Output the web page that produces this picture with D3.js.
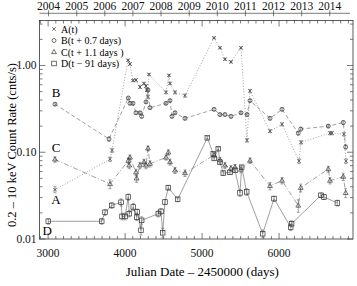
<!DOCTYPE html>
<html lang="en">
<head>
<meta charset="UTF-8">
<title>X-ray light curves</title>
<script src="https://d3js.org/d3.v7.min.js"></script>
<style>
body{margin:0;background:#fff;}
svg{display:block;font-family:"Liberation Serif","Times New Roman",serif;}
.frame{fill:none;stroke:#333;stroke-width:0.8px;}
.tick{stroke:#444;stroke-width:0.7px;}
.lbl{font-size:11.5px;fill:#111;}
.curve{fill:none;stroke:#888;stroke-width:0.8px;}
.mark{fill:none;stroke:#333;stroke-width:0.7px;}
.err{stroke:#666;stroke-width:0.6px;}
</style>
</head>
<body>
<svg width="357" height="286"></svg>
<script>
// each point: [JD - 2450000, rate (cnts/s), error]
var seriesA = [
  [3089, 0.037, 0.003], [3804, 0.083, 0.005], [3830, 0.105, 0.006],
  [4038, 1.15, 0.03], [4063, 1.04, 0.03], [4102, 0.67, 0.02], [4141, 0.68, 0.02],
  [4193, 0.565, 0.02], [4245, 0.62, 0.02], [4271, 0.58, 0.02], [4284, 0.52, 0.02],
  [4297, 0.436, 0.02], [4310, 0.79, 0.02], [4531, 0.49, 0.02], [4570, 0.77, 0.02],
  [4583, 0.62, 0.02], [4648, 0.49, 0.02], [4778, 0.45, 0.02], [5155, 2.08, 0.05],
  [5232, 1.60, 0.04], [5297, 1.18, 0.03], [5375, 1.10, 0.03], [5505, 1.60, 0.04],
  [5583, 0.137, 0.006], [5622, 0.51, 0.02], [5882, 0.175, 0.007], [6038, 0.21, 0.008],
  [6259, 0.079, 0.005], [6285, 0.13, 0.006], [6661, 0.166, 0.007], [6687, 0.166, 0.007],
  [6843, 0.161, 0.007], [6869, 0.079, 0.005]
];
var seriesB = [
  [3089, 0.358, 0.012], [3791, 0.142, 0.008], [4041, 0.422, 0.012], [4063, 0.366, 0.012],
  [4102, 0.366, 0.012], [4141, 0.285, 0.01], [4193, 0.285, 0.01], [4215, 0.259, 0.01],
  [4271, 0.38, 0.012], [4297, 0.521, 0.015], [4323, 0.326, 0.01], [4531, 0.366, 0.012],
  [4583, 0.394, 0.012], [4609, 0.259, 0.01], [4648, 0.285, 0.01], [4778, 0.246, 0.01],
  [5155, 0.312, 0.01], [5232, 0.272, 0.01], [5297, 0.272, 0.01], [5375, 0.259, 0.01],
  [5505, 0.285, 0.01], [5583, 0.272, 0.01], [5622, 0.394, 0.012], [5882, 0.246, 0.01],
  [6038, 0.312, 0.01], [6249, 0.166, 0.008], [6281, 0.185, 0.008], [6639, 0.20, 0.008],
  [6834, 0.22, 0.01], [6865, 0.115, 0.006]
];
var seriesC = [
  [3089, 0.0826, 0.006], [3804, 0.043, 0.005], [4041, 0.080, 0.006], [4054, 0.0705, 0.006],
  [4063, 0.087, 0.006], [4141, 0.0586, 0.005], [4150, 0.050, 0.005], [4193, 0.0705, 0.006],
  [4245, 0.077, 0.006], [4271, 0.0705, 0.006], [4297, 0.111, 0.007], [4323, 0.0737, 0.006],
  [4531, 0.087, 0.006], [4561, 0.0995, 0.007], [4583, 0.077, 0.006], [4648, 0.0618, 0.005],
  [4778, 0.0575, 0.005], [5155, 0.0927, 0.006], [5232, 0.0815, 0.006], [5297, 0.0705, 0.006],
  [5375, 0.065, 0.005], [5427, 0.0672, 0.005], [5505, 0.0629, 0.005], [5622, 0.080, 0.006],
  [5882, 0.0409, 0.004], [6038, 0.0471, 0.004], [6249, 0.0243, 0.004], [6281, 0.0389, 0.004],
  [6639, 0.0639, 0.005], [6661, 0.0471, 0.004], [6834, 0.0522, 0.005], [6865, 0.034, 0.004]
];
var seriesD = [
  [3002, 0.016, 0.0012], [3696, 0.016, 0.0012], [3739, 0.0203, 0.0016], [3826, 0.0244, 0.0018],
  [3947, 0.0265, 0.0025], [3960, 0.0182, 0.0016], [3999, 0.0182, 0.0016], [4041, 0.0305, 0.0025],
  [4054, 0.0196, 0.0016], [4106, 0.0234, 0.0022], [4150, 0.0179, 0.0016], [4158, 0.0205, 0.0016],
  [4206, 0.0126, 0.0015], [4215, 0.0164, 0.0016], [4431, 0.0196, 0.0016], [4466, 0.0208, 0.0016],
  [4488, 0.0118, 0.0015], [4518, 0.0267, 0.0018], [4561, 0.0391, 0.0025], [4683, 0.0287, 0.0018],
  [5068, 0.1466, 0.005], [5145, 0.0961, 0.004], [5158, 0.0848, 0.004], [5210, 0.1099, 0.004],
  [5232, 0.077, 0.004], [5275, 0.0575, 0.003], [5362, 0.0586, 0.003], [5427, 0.0618, 0.003],
  [5492, 0.034, 0.003], [5514, 0.0672, 0.003], [5579, 0.0349, 0.003], [5787, 0.0115, 0.0012],
  [5934, 0.0292, 0.002], [6151, 0.0137, 0.0012], [6162, 0.015, 0.0012], [6544, 0.0319, 0.002],
  [6583, 0.0305, 0.002], [6757, 0.026, 0.002]
];

var legendLabels = ["A(t)", "B(t + 0.7 days)", "C(t + 1.1 days )", "D(t \u2212 91 days)"];
var curveNames = ["A", "B", "C", "D"];
var xDomain = [2888, 6960];
var yDomain = [0.01, 3.3];
var xMajor = [3000, 4000, 5000, 6000];
var yMajor = [0.01, 0.1, 1];
var years = d3.range(2004, 2015);

var svg = d3.select("svg");
var L = 39.5, R = 353, T = 20.5, B = 239;

var x = d3.scaleLinear().domain(xDomain).range([L, R]);
var y = d3.scaleLog().domain(yDomain).range([B, T]);

// frame
svg.append("rect").attr("class", "frame")
  .attr("x", L).attr("y", T).attr("width", R - L).attr("height", B - T);

// x ticks on bottom and top edges, pointing inward
var xMinor = d3.range(2900, 6960, 100);
xMinor.forEach(function(d){
  var len = xMajor.indexOf(d) >= 0 ? 6 : 3;
  svg.append("line").attr("class", "tick")
    .attr("x1", x(d)).attr("x2", x(d)).attr("y1", B).attr("y2", B - len);
  svg.append("line").attr("class", "tick")
    .attr("x1", x(d)).attr("x2", x(d)).attr("y1", T).attr("y2", T + len);
});
svg.selectAll(".xl").data(xMajor).enter().append("text")
  .attr("class", "lbl").attr("text-anchor", "middle")
  .attr("x", function(d){ return x(d); }).attr("y", B + 18)
  .text(function(d){ return d; });

// y ticks on left and right edges
var yTicks = [];
yMajor.forEach(function(m){ for (var k = 1; k < 10; k++) if (m * k <= yDomain[1] + 1e-9) yTicks.push(m * k); });
yTicks.forEach(function(d){
  var len = yMajor.indexOf(d) >= 0 ? 6 : 3;
  svg.append("line").attr("class", "tick")
    .attr("x1", L).attr("x2", L + len).attr("y1", y(d)).attr("y2", y(d));
  svg.append("line").attr("class", "tick")
    .attr("x1", R).attr("x2", R - len).attr("y1", y(d)).attr("y2", y(d));
});
svg.selectAll(".yl").data(yMajor).enter().append("text")
  .attr("class", "lbl").attr("text-anchor", "end")
  .attr("x", L - 3).attr("y", function(d){ return y(d) + 4; })
  .text(d3.format(".2f"));

// calendar years on a separate axis above the frame
var yearDay = function(yr){ return Date.UTC(yr, 0, 1) / 86400000 + 2440587.5 - 2450000; };
var topY = 13.3;
svg.append("line").attr("class", "tick")
  .attr("x1", L).attr("x2", R - 3).attr("y1", topY).attr("y2", topY);
years.forEach(function(yr){
  var px = x(yearDay(yr));
  svg.append("line").attr("class", "tick")
    .attr("x1", px).attr("x2", px).attr("y1", topY - 3).attr("y2", topY + 3);
  svg.append("text").attr("class", "lbl").attr("text-anchor", "middle")
    .attr("x", px).attr("y", 9.5).text(yr);
});

// axis titles
svg.append("text").attr("text-anchor", "middle").style("font-size", "13px")
  .attr("x", (L + R) / 2 + 6).attr("y", 276)
  .text("Julian Date \u2013 2450000 (days)");
svg.append("text").attr("text-anchor", "middle").style("font-size", "12.5px")
  .attr("transform", "translate(16,145) rotate(-90)")
  .text("0.2 \u2013 10 keV Count Rate (cnts/s)");

function marker(g, kind, cx, cy){
  if (kind === "A") {
    var s = 1.8;
    g.append("path").attr("class", "mark")
      .attr("d", "M" + (cx - s) + "," + (cy - s) + "L" + (cx + s) + "," + (cy + s) +
                 "M" + (cx - s) + "," + (cy + s) + "L" + (cx + s) + "," + (cy - s));
  } else if (kind === "B") {
    g.append("circle").attr("class", "mark").attr("cx", cx).attr("cy", cy).attr("r", 2);
  } else if (kind === "C") {
    g.append("path").attr("class", "mark")
      .attr("d", "M" + cx + "," + (cy - 2.6) + "L" + (cx + 2.4) + "," + (cy + 1.6) +
                 "L" + (cx - 2.4) + "," + (cy + 1.6) + "Z");
  } else {
    g.append("rect").attr("class", "mark")
      .attr("x", cx - 2.3).attr("y", cy - 2.3).attr("width", 4.6).attr("height", 4.6);
  }
}

var allSeries = [seriesA, seriesB, seriesC, seriesD];
var dashes = ["1,1.8", "4,2.5", "5,2,1,2", null];
var line = d3.line().x(function(d){ return x(d[0]); }).y(function(d){ return y(d[1]); });

allSeries.forEach(function(data, i){
  var g = svg.append("g");
  g.append("path").attr("class", "curve").attr("d", line(data))
    .attr("stroke-dasharray", dashes[i]);
  data.forEach(function(d){
    var px = x(d[0]), y0 = y(d[1] - d[2]), y1 = y(d[1] + d[2]);
    g.append("line").attr("class", "err").attr("x1", px).attr("x2", px).attr("y1", y0).attr("y2", y1);
    g.append("line").attr("class", "err").attr("x1", px - 1.5).attr("x2", px + 1.5).attr("y1", y0).attr("y2", y0);
    g.append("line").attr("class", "err").attr("x1", px - 1.5).attr("x2", px + 1.5).attr("y1", y1).attr("y2", y1);
    marker(g, curveNames[i], px, y(d[1]));
  });
});

// curve names beside the first points
var labelOffsets = [10, -12, -12, 9];
allSeries.forEach(function(data, i){
  svg.append("text").attr("text-anchor", "middle").style("font-size", "13px")
    .attr("x", x(data[0][0]) + (i === 3 ? -1 : 1))
    .attr("y", y(data[0][1]) + labelOffsets[i] + 4.5)
    .text(curveNames[i]);
});

// legend
legendLabels.forEach(function(t, i){
  var ly = 29 + i * 11.5;
  var g = svg.append("g");
  marker(g, curveNames[i], 54, ly);
  g.append("text").style("font-size", "10px").attr("x", 61).attr("y", ly + 3.5).text(t);
});
</script>
</body>
</html>
